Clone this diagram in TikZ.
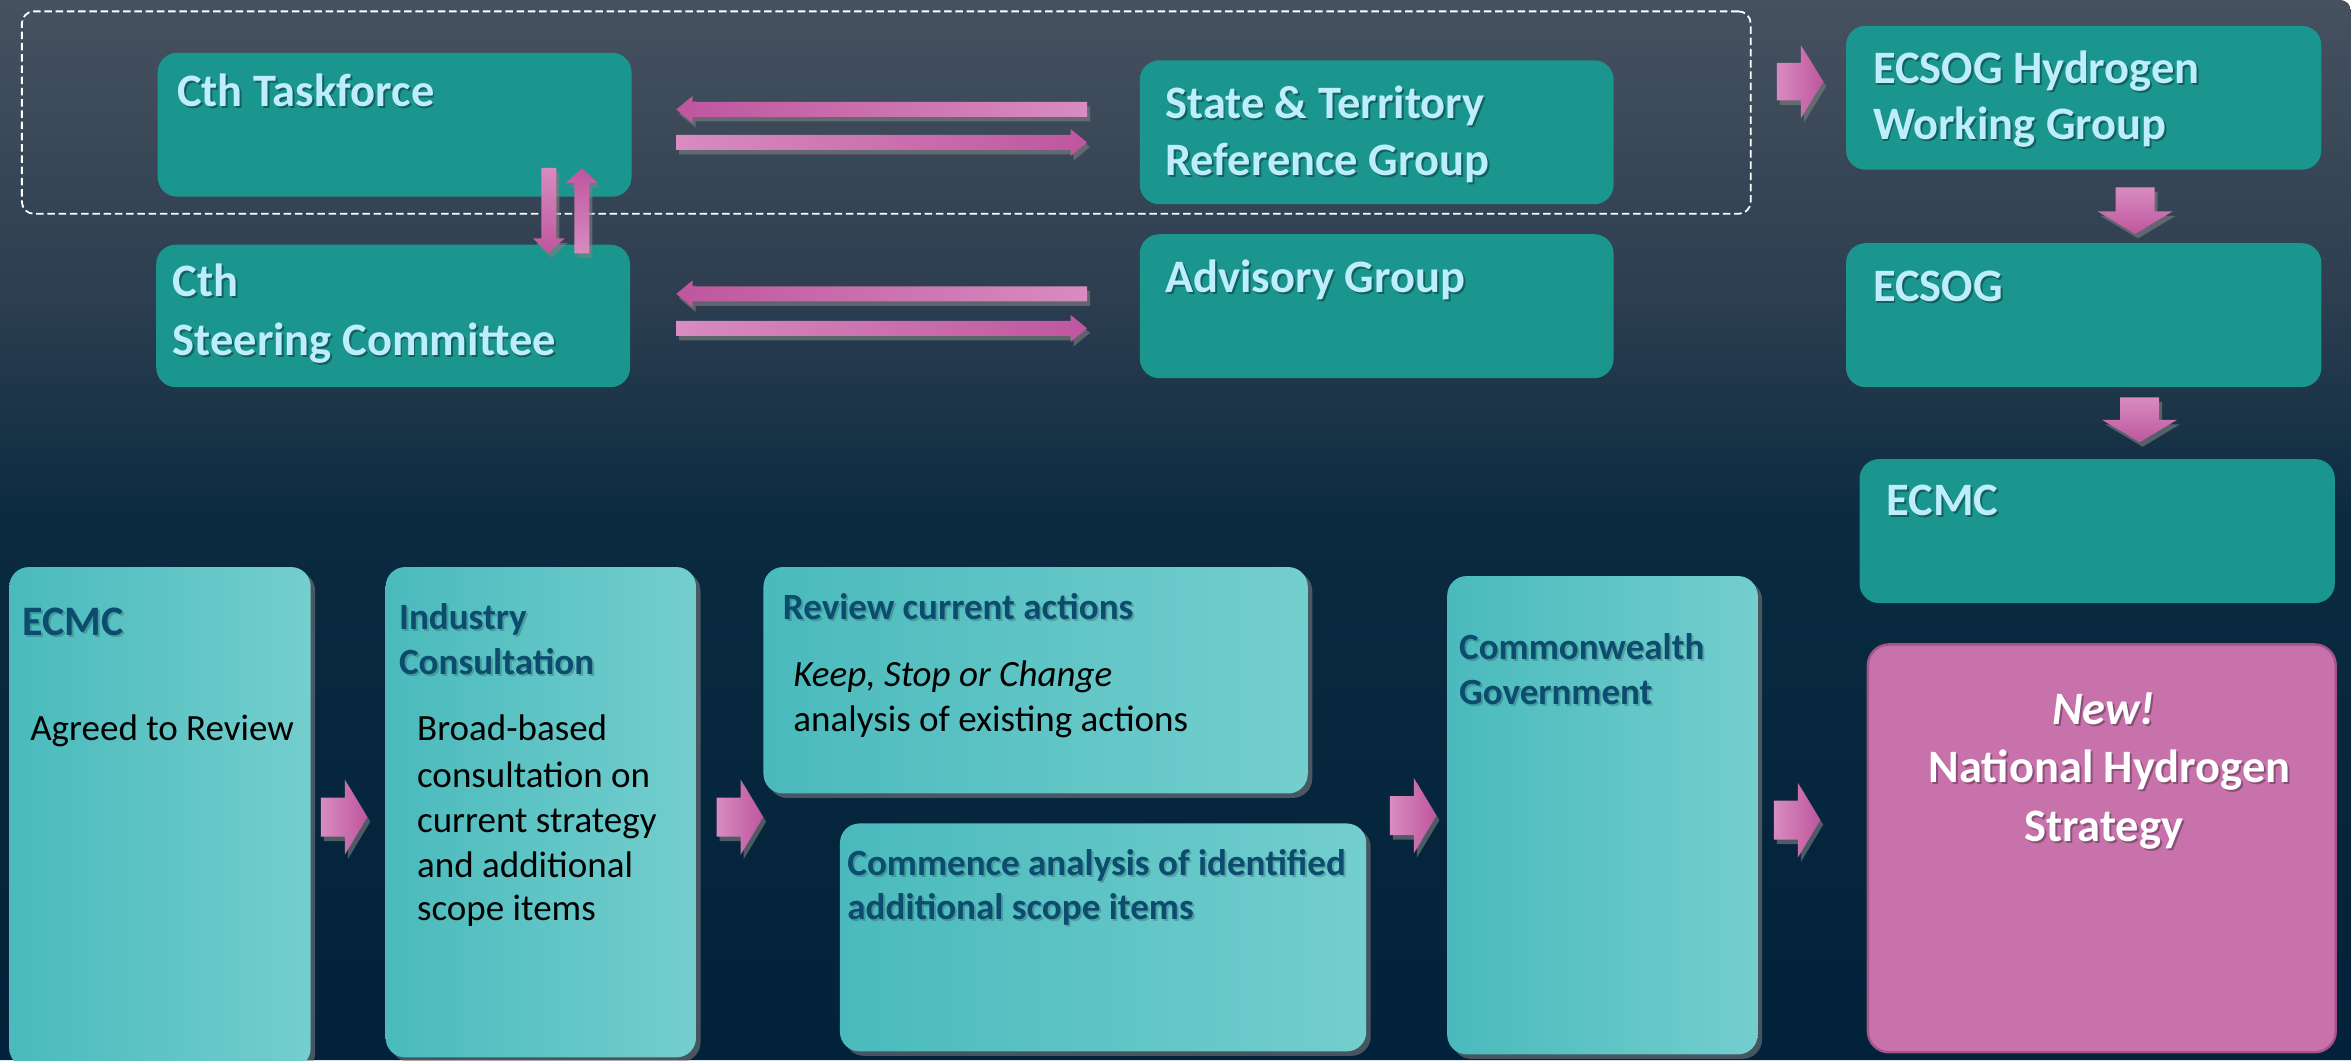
\documentclass[tikz,border=0pt]{standalone}
\usepackage{fontspec}
\setmainfont{Carlito}
\usetikzlibrary{calc,shadows}
\definecolor{topteal}{RGB}{27,150,143}
\definecolor{toptext}{RGB}{190,238,252}
\definecolor{botL}{RGB}{74,186,188}
\definecolor{botR}{RGB}{116,206,206}
\definecolor{hdblue}{RGB}{12,76,110}
\definecolor{pinkbox}{RGB}{199,114,171}
\definecolor{pinkedge}{RGB}{165,84,138}
\definecolor{arL}{RGB}{216,140,192}
\definecolor{arD}{RGB}{190,86,158}
\pgfdeclareverticalshading{bgshade}{100bp}{rgb(0bp)=(0.004,0.133,0.227); rgb(25bp)=(0.004,0.133,0.227); rgb(50.2bp)=(0.04,0.165,0.25); rgb(60.9bp)=(0.173,0.243,0.314); rgb(75bp)=(0.275,0.318,0.373); rgb(100bp)=(0.275,0.318,0.373)}
% text with shadow: style, name, x, y, text, shadow opacity
\newcommand\tx[6][.35]{%
  \node[#2, text=black, text opacity=#1] at (#4+1.3,#5+1.3) {#6};
  \node[#2] (#3) at (#4,#5) {#6};}
% block arrows: options, tail, tip, half shaft, half head, head length
\newcommand\RArrow[6]{\path[#1] let \p1=(#2),\p2=(#3) in (\x1,\y1+#4) -- (\x2-#6,\y1+#4) -- (\x2-#6,\y1+#5) -- (\x2,\y1) -- (\x2-#6,\y1-#5) -- (\x2-#6,\y1-#4) -- (\x1,\y1-#4) -- cycle;}
\newcommand\LArrow[6]{\path[#1] let \p1=(#2),\p2=(#3) in (\x1,\y1+#4) -- (\x2+#6,\y1+#4) -- (\x2+#6,\y1+#5) -- (\x2,\y1) -- (\x2+#6,\y1-#5) -- (\x2+#6,\y1-#4) -- (\x1,\y1-#4) -- cycle;}
\newcommand\DArrow[6]{\path[#1] let \p1=(#2),\p2=(#3) in (\x1+#4,\y1) -- (\x1+#4,\y2+#6) -- (\x1+#5,\y2+#6) -- (\x1,\y2) -- (\x1-#5,\y2+#6) -- (\x1-#4,\y2+#6) -- (\x1-#4,\y1) -- cycle;}
\newcommand\UArrow[6]{\path[#1] let \p1=(#2),\p2=(#3) in (\x1+#4,\y1) -- (\x1+#4,\y2-#6) -- (\x1+#5,\y2-#6) -- (\x1,\y2) -- (\x1-#5,\y2-#6) -- (\x1-#4,\y2-#6) -- (\x1-#4,\y1) -- cycle;}
\begin{document}
\begin{tikzpicture}[x=1pt,y=-1pt,
  topbox/.style={anchor=north west, rounded corners=13pt, fill=topteal, inner sep=0pt},
  botbox/.style={anchor=north west, rounded corners=13pt, left color=botL, right color=botR, inner sep=0pt,
     drop shadow={opacity=.55, shadow xshift=3pt, shadow yshift=-3pt}},
  pinkbx/.style={anchor=north west, rounded corners=14pt, fill=pinkbox, draw=pinkedge, line width=1.6pt, inner sep=0pt},
  hd/.style={anchor=base west, inner sep=0pt, text=toptext, font=\fontsize{31}{38}\selectfont\bfseries},
  bh/.style={anchor=base west, inner sep=0pt, text=hdblue, font=\fontsize{24.7}{30}\selectfont\bfseries},
  bt/.style={anchor=base west, inner sep=0pt, text=black, font=\fontsize{24.7}{30}\selectfont},
  wh/.style={anchor=base, inner sep=0pt, text=white, font=\fontsize{31}{38}\selectfont\bfseries},
  arrowshadow/.style={drop shadow={opacity=.6, shadow xshift=2pt, shadow yshift=-3pt}},
  pinkH/.style={left color=arL, right color=arD, arrowshadow},
  pinkHr/.style={left color=arD, right color=arL, arrowshadow},
  pinkV/.style={top color=arL, bottom color=arD, arrowshadow},
]
\useasboundingbox (0,0) rectangle (1568,707);
% background
\fill[white] (0,0) rectangle (1568,707);
\shade[shading=bgshade] (0,0) -- (1560,0) .. controls (1565,0) and (1568,3) .. (1568,8) -- (1568,707) -- (0,707) -- cycle;

% dashed group outline
\node[draw=white, line width=1.2pt, dash pattern=on 5pt off 2.5pt, rounded corners=8pt, anchor=north west,
      minimum width=1153pt, minimum height=135pt, inner sep=0pt] (grp) at (14,7) {};

% top boxes
\node[topbox, minimum width=316pt, minimum height=96pt] (tf) at (105,35) {};
\node[topbox, minimum width=316pt, minimum height=95pt] (sc) at (104,163) {};
\node[topbox, minimum width=316pt, minimum height=96pt] (st) at (760,40) {};
\node[topbox, minimum width=316pt, minimum height=96pt] (ag) at (760,156) {};
\node[topbox, minimum width=317pt, minimum height=96pt] (hwg) at (1231,17) {};
\node[topbox, minimum width=317pt, minimum height=96pt] (ecsog) at (1231,162) {};
\node[topbox, minimum width=317pt, minimum height=96pt] (ecmcT) at (1240,306) {};

% bottom boxes
\node[botbox, minimum width=201pt, minimum height=334pt] (ecmcB) at (6,378) {};
\node[botbox, minimum width=207pt, minimum height=327pt] (ind) at (257,378) {};
\node[botbox, minimum width=363pt, minimum height=151pt] (rev) at (509,378) {};
\node[botbox, minimum width=351pt, minimum height=152pt] (com) at (560,549) {};
\node[botbox, minimum width=207pt, minimum height=319pt] (cw) at (965,384) {};
\node[pinkbx, minimum width=312pt, minimum height=272pt] (nhs) at (1245,429) {};

% texts top
\tx{hd}{tTF}{118}{71}{Cth Taskforce}
\tx{hd}{tSC1}{115}{198}{Cth}
\tx{hd}{tSC2}{115}{237}{Steering Committee}
\tx{hd}{tST1}{777}{79}{State \& Territory}
\tx{hd}{tST2}{777}{117}{Reference Group}
\tx{hd}{tAG}{777}{195}{Advisory Group}
\tx{hd}{tHW1}{1249}{56}{ECSOG Hydrogen}
\tx{hd}{tHW2}{1249}{93}{Working Group}
\tx{hd}{tEC}{1249}{201}{ECSOG}
\tx{hd}{tEM}{1258}{344}{ECMC}

% texts bottom
\tx[.18]{bh, font=\fontsize{28}{30}\selectfont\bfseries}{bEM}{15}{424}{ECMC}
\node[bt] (bAR) at (20,494) {Agreed to Review};
\tx[.18]{bh}{bIN1}{266}{420}{Industry}
\tx[.18]{bh}{bIN2}{266}{450}{Consultation}
\node[bt] (bB1) at (278,494) {Broad-based};
\node[bt] (bB2) at (278,525) {consultation on};
\node[bt] (bB3) at (278,555) {current strategy};
\node[bt] (bB4) at (278,585) {and additional};
\node[bt] (bB5) at (278,614) {scope items};
\tx[.18]{bh}{bRV}{522}{413}{Review current actions}
\node[bt, font=\fontsize{24.7}{30}\selectfont\itshape] (bK1) at (529,458) {Keep, Stop or Change};
\node[bt] (bK2) at (529,488) {analysis of existing actions};
\tx[.18]{bh}{bCM1}{565}{584}{Commence analysis of identified}
\tx[.18]{bh}{bCM2}{565}{613}{additional scope items}
\tx[.18]{bh}{bCW1}{973}{440}{Commonwealth}
\tx[.18]{bh}{bCW2}{973}{470}{Government}
\tx[.3]{wh, font=\fontsize{31}{38}\selectfont\bfseries\itshape}{bNW}{1403}{483}{New!}
\tx[.3]{wh}{bNH}{1407}{522}{National Hydrogen}
\tx[.3]{wh}{bNS}{1403}{561}{Strategy}

% connector coordinates
\coordinate (a1t) at (725,73);  \coordinate (a1h) at (451,73);
\coordinate (a2t) at (451,95);  \coordinate (a2h) at (725,95);
\coordinate (a3t) at (725,196); \coordinate (a3h) at (451,196);
\coordinate (a4t) at (451,219); \coordinate (a4h) at (725,219);
\coordinate (v1t) at (366,112); \coordinate (v1h) at (366,169);
\coordinate (v2t) at (388,169); \coordinate (v2h) at (388,112);
\coordinate (g1t) at (1185,54.5); \coordinate (g1h) at (1216,54.5);
\coordinate (d1t) at (1424,125); \coordinate (d1h) at (1424,156);
\coordinate (d2t) at (1427,265); \coordinate (d2h) at (1427,295);
\coordinate (b1t) at (214,545); \coordinate (b1h) at (245,545);
\coordinate (b2t) at (478,545); \coordinate (b2h) at (509,545);
\coordinate (b3t) at (927,544); \coordinate (b3h) at (958,544);
\coordinate (b4t) at (1183,547); \coordinate (b4h) at (1214,547);

% thin arrows
\LArrow{pinkHr}{a1t}{a1h}{5}{9}{11}
\RArrow{pinkH}{a2t}{a2h}{5}{9}{11}
\LArrow{pinkHr}{a3t}{a3h}{5}{9}{11}
\RArrow{pinkH}{a4t}{a4h}{5}{9}{11}
\DArrow{pinkV}{v1t}{v1h}{5}{10.5}{10}
\UArrow{top color=arD, bottom color=arL, arrowshadow}{v2t}{v2h}{5}{10.5}{10}
% fat arrows
\RArrow{pinkH}{g1t}{g1h}{12.5}{24.5}{15}
\DArrow{pinkV}{d1t}{d1h}{13}{25}{15}
\DArrow{pinkV}{d2t}{d2h}{13}{25}{15}
\RArrow{pinkH}{b1t}{b1h}{13}{25}{15}
\RArrow{pinkH}{b2t}{b2h}{13}{25}{15}
\RArrow{pinkH}{b3t}{b3h}{13}{25}{15}
\RArrow{pinkH}{b4t}{b4h}{13}{25}{15}
\end{tikzpicture}
\end{document}
